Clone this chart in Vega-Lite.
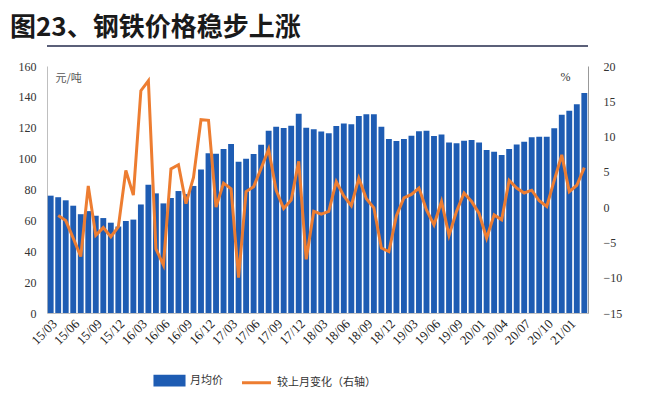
{
  "$schema": "https://vega.github.io/schema/vega-lite/v6.json",
  "width": 541,
  "height": 247,
  "autosize": {"type": "none"},
  "padding": {"left": 47, "top": 66, "right": 64, "bottom": 84},
  "background": "white",
  "title": {"text": "图23、钢铁价格稳步上涨", "anchor": "start", "frame": "group", "dx": -37, "offset": 4, "font": "Noto Sans CJK SC", "fontSize": 26, "fontWeight": "bold", "color": "#1a1a1a"},
  "config": {"view": {"stroke": null}},
  "data": {"values": [
    {"m": "15/03", "p": 76, "c": null},
    {"m": "15/04", "p": 75, "c": -1.2},
    {"m": "15/05", "p": 73, "c": -1.9},
    {"m": "15/06", "p": 69.5, "c": -4.4},
    {"m": "15/07", "p": 64, "c": -7.0},
    {"m": "15/08", "p": 66, "c": 3.0},
    {"m": "15/09", "p": 63, "c": -4.0},
    {"m": "15/10", "p": 61.5, "c": -2.9},
    {"m": "15/11", "p": 58.5, "c": -4.2},
    {"m": "15/12", "p": 56, "c": -2.8},
    {"m": "16/01", "p": 59.6, "c": 5.2},
    {"m": "16/02", "p": 60.5, "c": 1.7},
    {"m": "16/03", "p": 70.3, "c": 16.5},
    {"m": "16/04", "p": 83, "c": 17.9},
    {"m": "16/05", "p": 77.5, "c": -5.9},
    {"m": "16/06", "p": 71, "c": -8.2},
    {"m": "16/07", "p": 74.5, "c": 5.4},
    {"m": "16/08", "p": 79, "c": 6.0},
    {"m": "16/09", "p": 77, "c": 0.5},
    {"m": "16/10", "p": 82.3, "c": 4.2},
    {"m": "16/11", "p": 93, "c": 12.4},
    {"m": "16/12", "p": 103.5, "c": 12.3},
    {"m": "17/01", "p": 103.2, "c": 0.0},
    {"m": "17/02", "p": 106.3, "c": 3.4},
    {"m": "17/03", "p": 109.5, "c": 2.6},
    {"m": "17/04", "p": 98, "c": -10.0},
    {"m": "17/05", "p": 100, "c": 2.2},
    {"m": "17/06", "p": 103, "c": 2.9},
    {"m": "17/07", "p": 109, "c": 5.5},
    {"m": "17/08", "p": 118, "c": 8.2},
    {"m": "17/09", "p": 120.6, "c": 2.4},
    {"m": "17/10", "p": 119.8, "c": -0.2},
    {"m": "17/11", "p": 121.3, "c": 1.0},
    {"m": "17/12", "p": 129, "c": 6.5},
    {"m": "18/01", "p": 120, "c": -7.4},
    {"m": "18/02", "p": 119, "c": -0.6},
    {"m": "18/03", "p": 117.5, "c": -1.0},
    {"m": "18/04", "p": 116.5, "c": -0.6},
    {"m": "18/05", "p": 121.1, "c": 3.6},
    {"m": "18/06", "p": 122.8, "c": 1.6},
    {"m": "18/07", "p": 122.2, "c": 0.2},
    {"m": "18/08", "p": 127.6, "c": 4.1},
    {"m": "18/09", "p": 128.7, "c": 1.2},
    {"m": "18/10", "p": 128.7, "c": -0.1},
    {"m": "18/11", "p": 120.7, "c": -5.8},
    {"m": "18/12", "p": 112.7, "c": -6.3},
    {"m": "19/01", "p": 111.4, "c": -1.2},
    {"m": "19/02", "p": 112.7, "c": 1.3},
    {"m": "19/03", "p": 114.8, "c": 1.8},
    {"m": "19/04", "p": 117.7, "c": 2.7},
    {"m": "19/05", "p": 118.1, "c": -0.4},
    {"m": "19/06", "p": 114.6, "c": -2.5},
    {"m": "19/07", "p": 115.7, "c": 0.8},
    {"m": "19/08", "p": 110.5, "c": -4.0},
    {"m": "19/09", "p": 109.9, "c": -0.6},
    {"m": "19/10", "p": 111.6, "c": 2.0},
    {"m": "19/11", "p": 112, "c": 0.8},
    {"m": "20/01", "p": 110.5, "c": -0.9},
    {"m": "20/02", "p": 105.6, "c": -4.4},
    {"m": "20/03", "p": 104.5, "c": -1.1},
    {"m": "20/04", "p": 102.3, "c": -1.8},
    {"m": "20/05", "p": 106.2, "c": 3.8},
    {"m": "20/06", "p": 109.2, "c": 2.7},
    {"m": "20/07", "p": 111, "c": 2.0},
    {"m": "20/08", "p": 113.8, "c": 2.4},
    {"m": "20/09", "p": 114.2, "c": 0.9},
    {"m": "20/10", "p": 114.2, "c": 0.1},
    {"m": "20/11", "p": 119.6, "c": 3.8},
    {"m": "20/12", "p": 128.5, "c": 7.4},
    {"m": "21/01", "p": 131, "c": 2.2},
    {"m": "21/02", "p": 135.2, "c": 3.1},
    {"m": "21/03", "p": 142.5, "c": 5.6}
  ]},
  "layer": [
    {
      "mark": {"type": "bar"},
      "encoding": {
        "x": {"field": "m", "type": "ordinal", "sort": null,
          "scale": {"paddingInner": 0.22, "paddingOuter": 0.1},
          "axis": {"title": null, "values": ["15/03","15/06","15/09","15/12","16/03","16/06","16/09","16/12","17/03","17/06","17/09","17/12","18/03","18/06","18/09","18/12","19/03","19/06","19/09","20/01","20/04","20/07","20/10","21/01"],
            "labelAngle": -45, "labelFont": "Liberation Serif", "labelFontSize": 13, "labelColor": "#222222", "ticks": false, "labelPadding": 4, "labelOverlap": false, "domainColor": "#bfbfbf"}},
        "y": {"field": "p", "type": "quantitative",
          "scale": {"domain": [0, 160], "nice": false},
          "axis": {"values": [0,20,40,60,80,100,120,140,160], "labelOverlap": false, "grid": false, "ticks": false, "labelPadding": 11, "labelFont": "Liberation Serif", "labelFontSize": 12, "labelColor": "#333333", "domainColor": "#bfbfbf",
            "title": "元/吨", "titleAngle": 0, "titleX": 8, "titleY": 12, "titleAlign": "left", "titleBaseline": "middle", "titleFont": "Noto Sans CJK SC", "titleFontSize": 11, "titleFontWeight": "normal", "titleColor": "#555555"}},
        "color": {"datum": "月均价",
          "scale": {"domain": ["月均价", "较上月变化（右轴）"], "range": ["#1E5CB3", "#ED7D31"]},
          "legend": {"orient": "none", "legendX": 111, "legendY": 303, "direction": "horizontal", "title": null,
            "symbolSize": 375, "labelOffset": 9, "columnPadding": 12, "labelFont": "Noto Sans CJK SC", "labelFontSize": 11, "labelColor": "#333333",
            "encode": {"symbols": {"update": {
              "shape": {"signal": "datum.value === '月均价' ? 'M-1.5,-0.45H1.5V0.45H-1.5Z' : 'M-1.5,0H1.5'"},
              "fill": {"signal": "datum.value === '月均价' ? '#1E5CB3' : 'transparent'"},
              "stroke": {"signal": "datum.value === '月均价' ? 'transparent' : '#ED7D31'"},
              "strokeWidth": {"value": 3},
              "opacity": {"value": 1}}}}}}
      }
    },
    {
      "mark": {"type": "line", "strokeWidth": 3},
      "encoding": {
        "x": {"field": "m", "type": "ordinal", "sort": null},
        "y": {"field": "c", "type": "quantitative",
          "scale": {"domain": [-15, 20], "nice": false},
          "axis": {"orient": "right", "values": [-15,-10,-5,0,5,10,15,20], "labelOverlap": false, "grid": false, "ticks": false, "labelPadding": 15, "labelFont": "Liberation Serif", "labelFontSize": 12, "labelColor": "#333333", "domainColor": "#999999",
            "title": "%", "titleAngle": 0, "titleX": -23, "titleY": 10, "titleAlign": "center", "titleBaseline": "middle", "titleFont": "Liberation Serif", "titleFontSize": 12, "titleFontWeight": "normal", "titleColor": "#333333"}},
        "color": {"datum": "较上月变化（右轴）"}
      }
    },
    {
      "data": {"values": [{}]},
      "mark": {"type": "rule", "color": "#5b6079", "strokeWidth": 2, "clip": false},
      "encoding": {"y": {"datum": 173, "type": "quantitative", "scale": {"domain": [0, 160], "nice": false}, "axis": null}}
    }
  ],
  "resolve": {"scale": {"y": "independent"}}
}
